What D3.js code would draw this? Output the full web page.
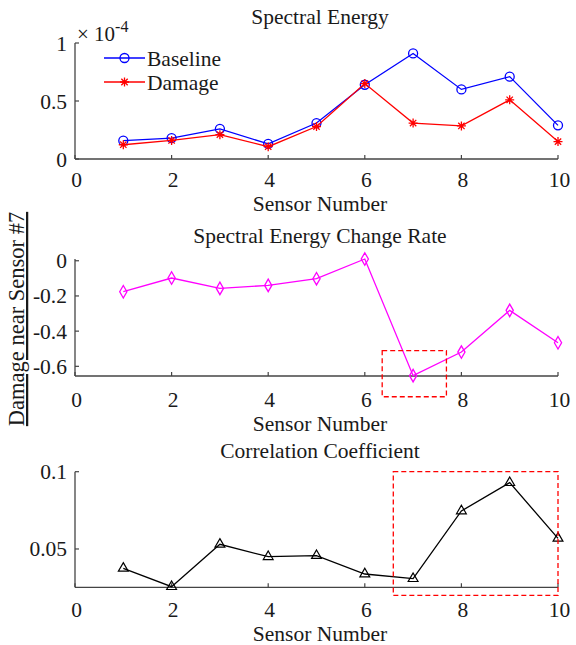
<!DOCTYPE html>
<html>
<head>
<meta charset="utf-8">
<script src="https://cdn.jsdelivr.net/npm/d3@7"></script>
<style>
  body { margin: 0; background: #fff; }
  text { font-family: "Liberation Serif", "Times New Roman", serif; fill: #1a1a1a; }
</style>
</head>
<body>
<svg id="chart" width="576" height="645"></svg>
<script>
// sensor numbers
var sensors = [1, 2, 3, 4, 5, 6, 7, 8, 9, 10]
// spectral energy (x 1e-4)
var baseline = [0.158, 0.18, 0.26, 0.13, 0.31, 0.64, 0.91, 0.60, 0.71, 0.29]
var damage = [0.123, 0.16, 0.21, 0.106, 0.28, 0.65, 0.31, 0.285, 0.51, 0.15]
// spectral energy change rate
var changeRate = [-0.176, -0.098, -0.157, -0.14, -0.102, 0.01, -0.653, -0.519, -0.282, -0.466]
// correlation coefficient
var corrCoef = [0.0375, 0.0256, 0.053, 0.045, 0.0457, 0.0338, 0.0308, 0.0746, 0.0929, 0.0569]

var xTicks = [0, 2, 4, 6, 8, 10]
var yTicks1 = [0, 0.5, 1]
var yTicks2 = [0, -0.2, -0.4, -0.6]
var yTicks3 = [0.05, 0.1]

// highlight boxes [x0, x1, y0, y1] in data units
var box2 = [6.36, 7.69, -0.511, -0.773]
var box3 = [6.59, 10.0, 0.1, 0.02]

var svg = d3.select('#chart')
var x = d3.scaleLinear().domain([0, 10]).range([75, 558])
var fs = "21.5px"

var panels = [
  {title: "Spectral Energy", y: d3.scaleLinear().domain([0, 1]).range([159, 43]), ticks: yTicks1,
   titleY: 24, tickY: 187, labelY: 211},
  {title: "Spectral Energy Change Rate", y: d3.scaleLinear().domain([-0.655, 0.01]).range([376, 259]), ticks: yTicks2,
   titleY: 243, tickY: 407, labelY: 431},
  {title: "Correlation Coefficient", y: d3.scaleLinear().domain([0.0252, 0.1]).range([587.3, 471.7]), ticks: yTicks3,
   titleY: 458, tickY: 617, labelY: 641}
]

var axisColor = "#444"

panels.forEach(function(p){
  var g = svg.append("g")
  var y0 = p.y.range()[0], y1 = p.y.range()[1]

  // axes lines
  g.append("line").attr("x1", x(0)).attr("x2", x(10)).attr("y1", y0).attr("y2", y0)
    .style("stroke", axisColor).style("stroke-width", 1.3)
  g.append("line").attr("x1", x(0)).attr("x2", x(0)).attr("y1", y0).attr("y2", y1)
    .style("stroke", axisColor).style("stroke-width", 1.3)

  // x ticks (inward)
  g.selectAll(".xt").data(xTicks).enter().append("line")
    .attr("x1", function(d){ return x(d) }).attr("x2", function(d){ return x(d) })
    .attr("y1", y0).attr("y2", y0 - 4)
    .style("stroke", axisColor).style("stroke-width", 1.2)
  g.selectAll(".xl").data(xTicks).enter().append("text")
    .attr("x", function(d){ return x(d) + 1.5 }).attr("y", p.tickY)
    .attr("text-anchor", "middle").style("font-size", fs)
    .text(function(d){ return d })

  // y ticks (inward)
  g.selectAll(".yt").data(p.ticks).enter().append("line")
    .attr("x1", x(0)).attr("x2", x(0) + 4)
    .attr("y1", function(d){ return p.y(d) }).attr("y2", function(d){ return p.y(d) })
    .style("stroke", axisColor).style("stroke-width", 1.2)
  g.selectAll(".yl").data(p.ticks).enter().append("text")
    .attr("x", x(0) - 8).attr("y", function(d){ return p.y(d) + 7.5 })
    .attr("text-anchor", "end").style("font-size", fs)
    .text(function(d){ return String(d) })

  // titles
  g.append("text").attr("x", 320).attr("y", p.titleY)
    .attr("text-anchor", "middle").style("font-size", fs).text(p.title)
  g.append("text").attr("x", 320).attr("y", p.labelY)
    .attr("text-anchor", "middle").style("font-size", fs).text("Sensor Number")
  p.g = g
})

var line = function(yScale){
  return d3.line().x(function(d){ return x(d[0]) }).y(function(d){ return yScale(d[1]) })
}

// MATLAB-style 8 arm asterisk
var asterisk8 = {
  draw: function(ctx, size){
    var r = Math.sqrt(size) / 2, c = r * Math.SQRT1_2
    ctx.moveTo(-r, 0); ctx.lineTo(r, 0)
    ctx.moveTo(0, -r); ctx.lineTo(0, r)
    ctx.moveTo(-c, -c); ctx.lineTo(c, c)
    ctx.moveTo(-c, c); ctx.lineTo(c, -c)
  }
}

// ---- panel 1
var p1 = panels[0]
var baseData = d3.zip(sensors, baseline)
var dmgData = d3.zip(sensors, damage)

p1.g.append("path").datum(baseData).attr("d", line(p1.y))
  .attr("fill", "none").style("stroke", "#0000ff").style("stroke-width", 1.3)
p1.g.selectAll(".bm").data(baseData).enter().append("circle")
  .attr("cx", function(d){ return x(d[0]) }).attr("cy", function(d){ return p1.y(d[1]) })
  .attr("r", 4.5).attr("fill", "none").style("stroke", "#0000ff").style("stroke-width", 1.3)

p1.g.append("path").datum(dmgData).attr("d", line(p1.y))
  .attr("fill", "none").style("stroke", "#ff0000").style("stroke-width", 1.3)
var star = d3.symbol().type(asterisk8).size(81)
p1.g.selectAll(".dm").data(dmgData).enter().append("path")
  .attr("d", star)
  .attr("transform", function(d){ return "translate(" + x(d[0]) + "," + p1.y(d[1]) + ")" })
  .attr("fill", "none").style("stroke", "#ff0000").style("stroke-width", 1.3)

// exponent
var ex = p1.g.append("text").attr("x", 77).attr("y", 41).style("font-size", "21px")
ex.append("tspan").text("\u00d7 10")
ex.append("tspan").attr("dy", -9).style("font-size", "16px").text("-4")

// legend
var legend = [
  {name: "Baseline", color: "#0000ff", y: 58},
  {name: "Damage", color: "#ff0000", y: 82}
]
legend.forEach(function(l, i){
  p1.g.append("line").attr("x1", 104).attr("x2", 145).attr("y1", l.y).attr("y2", l.y)
    .style("stroke", l.color).style("stroke-width", 1.3)
  if (i === 0) {
    p1.g.append("circle").attr("cx", 124.5).attr("cy", l.y).attr("r", 4.5)
      .attr("fill", "none").style("stroke", l.color).style("stroke-width", 1.3)
  } else {
    p1.g.append("path").attr("d", star).attr("transform", "translate(124.5," + l.y + ")")
      .attr("fill", "none").style("stroke", l.color).style("stroke-width", 1.3)
  }
  p1.g.append("text").attr("x", 147).attr("y", l.y + 7.5).style("font-size", fs).text(l.name)
})

// ---- panel 2
var p2 = panels[1]
var rateData = d3.zip(sensors, changeRate)
p2.g.append("path").datum(rateData).attr("d", line(p2.y))
  .attr("fill", "none").style("stroke", "#ff00ff").style("stroke-width", 1.3)
var diamond = d3.symbol().type(d3.symbolDiamond).size(45)
p2.g.selectAll(".rm").data(rateData).enter().append("path")
  .attr("d", diamond)
  .attr("transform", function(d){ return "translate(" + x(d[0]) + "," + p2.y(d[1]) + ")" })
  .attr("fill", "none").style("stroke", "#ff00ff").style("stroke-width", 1.3)

// ---- panel 3
var p3 = panels[2]
var corrData = d3.zip(sensors, corrCoef)
p3.g.append("path").datum(corrData).attr("d", line(p3.y))
  .attr("fill", "none").style("stroke", "#000").style("stroke-width", 1.3)
var tri = d3.symbol().type(d3.symbolTriangle).size(42)
p3.g.selectAll(".cm").data(corrData).enter().append("path")
  .attr("d", tri)
  .attr("transform", function(d){ return "translate(" + x(d[0]) + "," + p3.y(d[1]) + ")" })
  .attr("fill", "none").style("stroke", "#000").style("stroke-width", 1.2)

// highlight boxes
;[[p2, box2], [p3, box3]].forEach(function(pb){
  var p = pb[0], b = pb[1]
  svg.append("rect")
    .attr("x", x(b[0])).attr("y", p.y(b[2]))
    .attr("width", x(b[1]) - x(b[0])).attr("height", p.y(b[3]) - p.y(b[2]))
    .attr("fill", "none").style("stroke", "#ff0000").style("stroke-width", 1.3)
    .style("stroke-dasharray", "5,3")
})

// shared y label
svg.append("text")
  .attr("transform", "translate(24,319) rotate(-90)")
  .attr("text-anchor", "middle").style("font-size", "22.5px")
  .style("text-decoration", "underline")
  .text("Damage near Sensor #7")
</script>
</body>
</html>
